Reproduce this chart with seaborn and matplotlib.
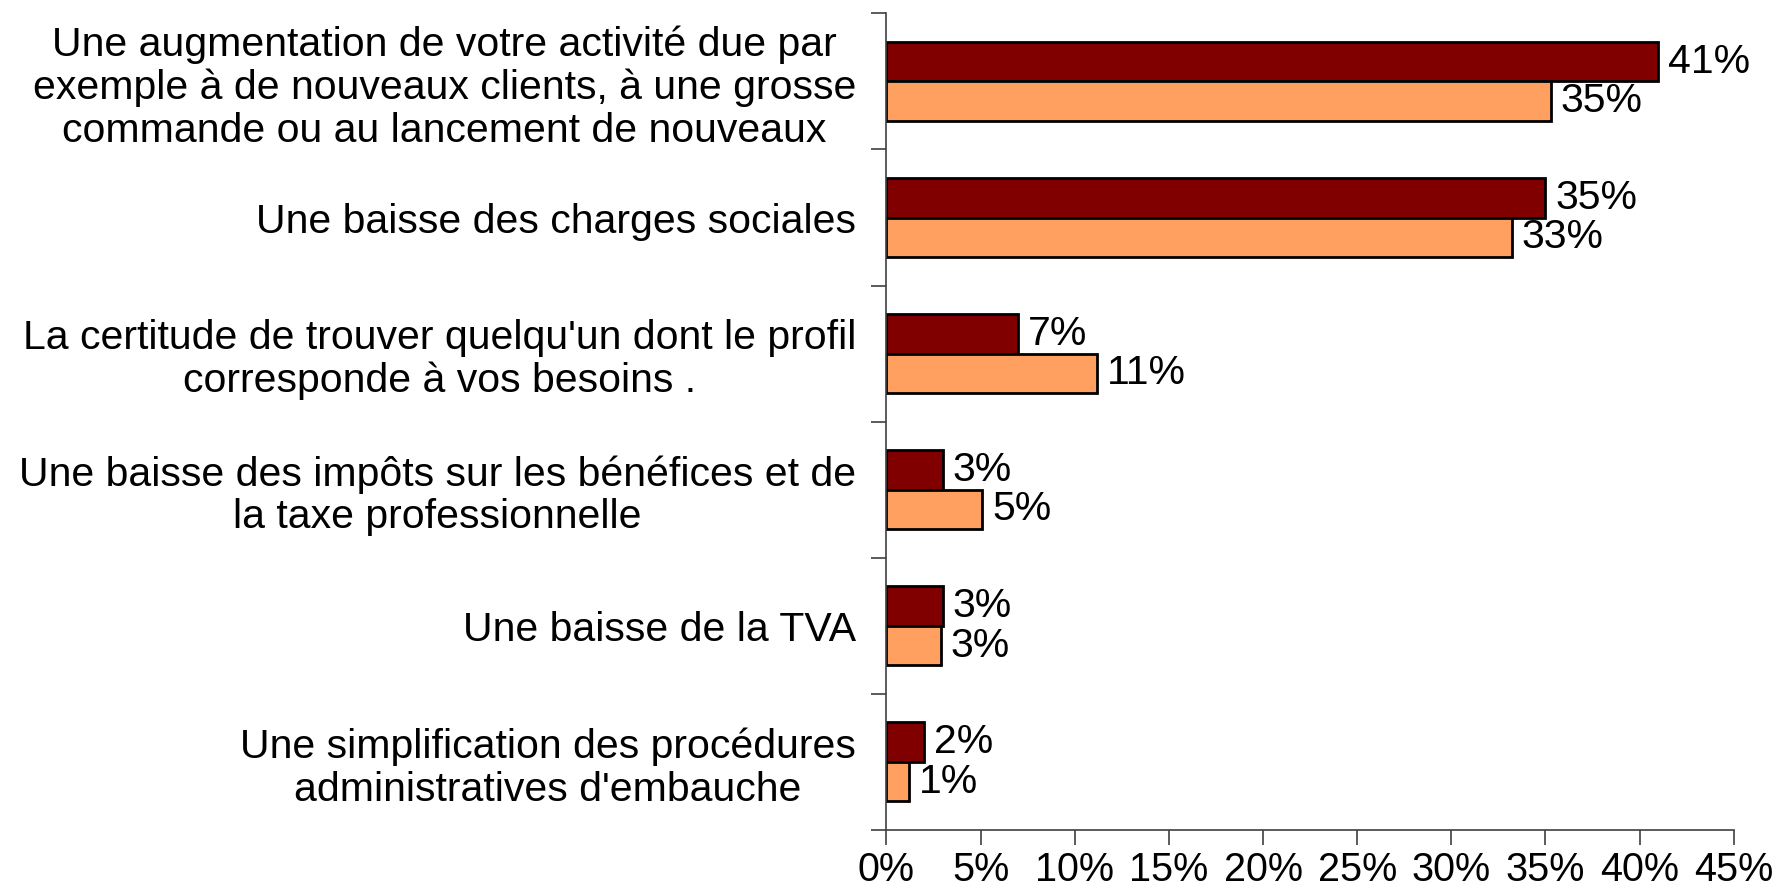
import pandas as pd
import seaborn as sns
import matplotlib.pyplot as plt
from matplotlib.ticker import FixedLocator, PercentFormatter

categories = [
    "Une augmentation de votre activité due par\nexemple à de nouveaux clients, à une grosse\ncommande ou au lancement de nouveaux",
    "Une baisse des charges sociales",
    "La certitude de trouver quelqu'un dont le profil\ncorresponde à vos besoins .",
    "Une baisse des impôts sur les bénéfices et de\nla taxe professionnelle",
    "Une baisse de la TVA",
    "Une simplification des procédures\nadministratives d'embauche",
]
serie1 = [41.0, 35.0, 7.0, 3.0, 3.0, 2.0]
serie2 = [35.3, 33.2, 11.2, 5.1, 2.9, 1.2]
series_names = ["Série 1", "Série 2"]
xticks = [0, 5, 10, 15, 20, 25, 30, 35, 40, 45]

df = pd.DataFrame({
    "categorie": categories * 2,
    "valeur": serie1 + serie2,
    "serie": [series_names[0]] * len(categories) + [series_names[1]] * len(categories),
})

sns.set_style("white")
plt.rcParams["font.family"] = ["Liberation Sans", "DejaVu Sans"]
plt.rcParams["text.color"] = "black"
plt.rcParams["xtick.labelcolor"] = "black"
plt.rcParams["ytick.labelcolor"] = "black"

fig = plt.figure(figsize=(17.8, 8.92), dpi=100)
ax = fig.add_axes([0.498, 0.0695, 0.476, 0.9155])

sns.barplot(data=df, y="categorie", x="valeur", hue="serie", hue_order=series_names,
            palette=["#800000", "#FFA060"], width=0.58, edgecolor="black",
            linewidth=2.0, orient="h", legend=False, ax=ax, saturation=1)

for cont in ax.containers:
    ax.bar_label(cont, fmt="%.0f%%", padding=7, fontsize=29.5, color="black")

ax.set_xlim(0, 45)
ax.set_ylim(5.5, -0.5)
ax.set_xticks(xticks)
ax.xaxis.set_major_formatter(PercentFormatter(decimals=0))
ax.yaxis.set_minor_locator(FixedLocator([i - 0.5 for i in range(len(categories) + 1)]))
ax.set_xlabel("")
ax.set_ylabel("")

ax.tick_params(axis="y", which="major", length=0, pad=22, labelsize=29.5)
ax.tick_params(axis="y", which="minor", left=True, length=11, width=1.2, color="#404040")
ax.tick_params(axis="x", which="major", bottom=True, length=11, width=1.2, color="#404040",
               pad=4, labelsize=28.5)
for lab in ax.get_yticklabels():
    lab.set_multialignment("center")
    lab.set_linespacing(1.15)

for side in ["top", "right"]:
    ax.spines[side].set_visible(False)
for side in ["left", "bottom"]:
    ax.spines[side].set_color("#404040")
    ax.spines[side].set_linewidth(1.2)

fig.savefig("out.png", dpi=100)
